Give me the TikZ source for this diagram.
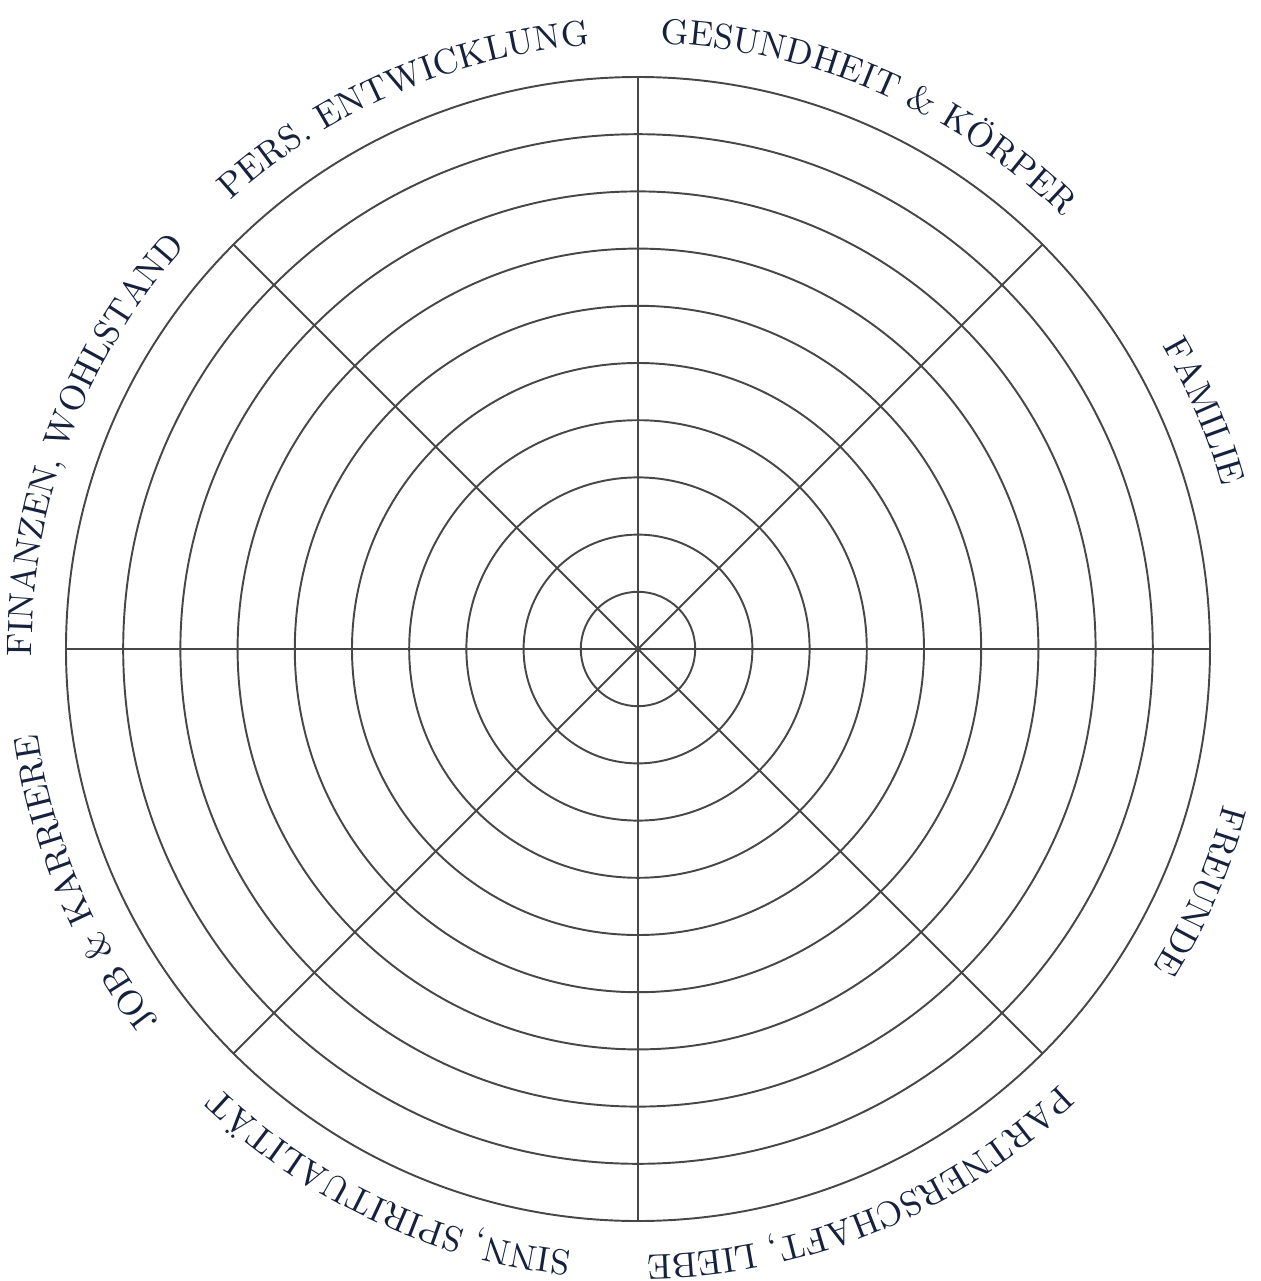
\documentclass[tikz,border=0pt]{standalone}
\usetikzlibrary{decorations.text}
\definecolor{navy}{HTML}{16213E}
\definecolor{gridgray}{HTML}{474747}
\newcommand\lblfont{\fontsize{10.1}{12}\selectfont}
\newcommand\wheellabel[2]{%
  \pgfmathsetmacro\sa{#1+40}\pgfmathsetmacro\ea{#1-40}%
  \path[decorate, decoration={text along path, text align=center, text color=navy, text={|\lblfont|#2}}]
    (\sa:6.06) arc[start angle=\sa, end angle=\ea, radius=6.06];}
\begin{document}
\begin{tikzpicture}
\tikzset{gridline/.style={draw=gridgray, line width=0.55pt}}
\useasboundingbox (-6.38,-6.32) rectangle (6.22,6.49);
\coordinate (c) at (0,0);
\foreach \k in {1,...,10} \draw[gridline] (c) circle ({\k*0.572});
\foreach \a in {0,45,...,315} \draw[gridline] (c) -- (\a:5.72);
\wheellabel{66.7}{GESUNDHEIT {\&} KÖRPER}
\wheellabel{22.8}{FAMILIE}
\wheellabel{-23.3}{FREUNDE}
\wheellabel{-67.5}{PARTNERSCHAFT, LIEBE}
\wheellabel{-115}{SINN, SPIRITUALITÄT}
\wheellabel{-157}{JOB {\&} KARRIERE}
\wheellabel{159.5}{FINANZEN, WOHLSTAND}
\wheellabel{113.4}{PERS. ENTWICKLUNG}
\end{tikzpicture}
\end{document}
